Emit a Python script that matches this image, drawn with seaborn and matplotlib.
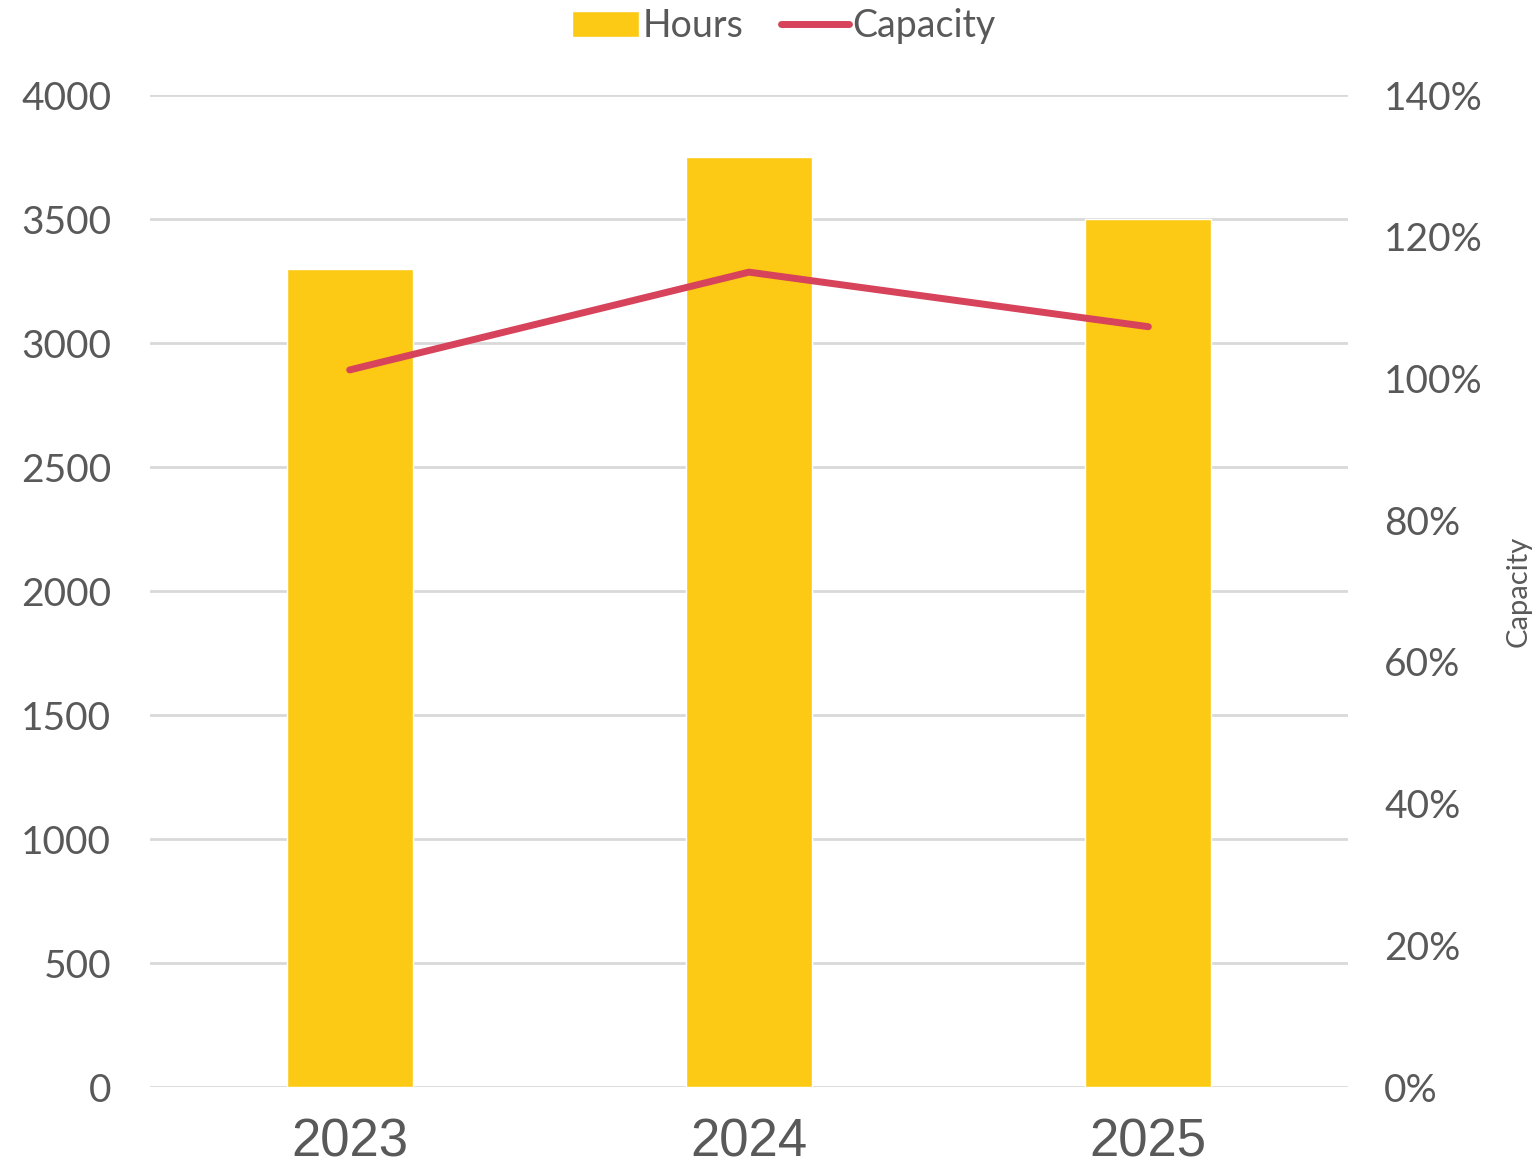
import pandas as pd
import matplotlib.pyplot as plt
import seaborn as sns
from matplotlib.ticker import PercentFormatter
from matplotlib.patches import Patch
from matplotlib.lines import Line2D

# data
years = ["2023", "2024", "2025"]
hours = [3300, 3750, 3500]
capacity = [101.2, 115.0, 107.3]

df = pd.DataFrame({"year": years, "hours": hours, "capacity": capacity})

sns.set_style("white")
plt.rcParams['font.family'] = ['Lato', 'DejaVu Sans']

bar_color = "#FCC914"
line_color = "#D6435A"
text_color = "#595959"

fig = plt.figure(figsize=(15.37, 11.73), dpi=100)
ax = fig.add_axes([150 / 1537, 1 - 1087 / 1173, 1198 / 1537, 992 / 1173])

sns.barplot(data=df, x="year", y="hours", color=bar_color, width=0.315,
            saturation=1, ax=ax, zorder=2)
ax.set_ylim(0, 4000)
ax.set_xlim(-0.5, 2.5)
ax.set_yticks(range(0, 4001, 500))
ax.yaxis.grid(True, color="#d9d9d9", linewidth=2, zorder=0)
ax.set_axisbelow(True)
ax.set_xlabel("")
ax.set_ylabel("")
for s in ax.spines.values():
    s.set_visible(False)
ax.tick_params(axis="y", labelsize=28, labelcolor=text_color, length=0, pad=28)
ax.tick_params(axis="x", labelsize=38, labelcolor=text_color, length=0, pad=22)
for lab in ax.get_xticklabels():
    lab.set_fontfamily("Liberation Sans")

ax2 = ax.twinx()
sns.lineplot(x=[0, 1, 2], y=capacity, color=line_color, linewidth=5,
             solid_capstyle="round", ax=ax2)
ax2.set_ylim(0, 140)
ax2.set_yticks(range(0, 141, 20))
ax2.yaxis.set_major_formatter(PercentFormatter(decimals=0))
for s in ax2.spines.values():
    s.set_visible(False)
ax2.tick_params(axis="y", labelsize=28, labelcolor=text_color, length=0, pad=26)
ax2.set_ylabel("Capacity", fontsize=21, color=text_color, labelpad=16)

handles = [Patch(facecolor=bar_color, label="Hours"),
           Line2D([0], [0], color=line_color, linewidth=5, solid_capstyle="round", label="Capacity")]
fig.legend(handles=handles, loc="upper center", bbox_to_anchor=(0.51, 1.022), ncol=2,
           frameon=False, fontsize=27, labelcolor=text_color, handlelength=1.8,
           handletextpad=0.1, columnspacing=1.0)

fig.savefig("out.png", dpi=100)
